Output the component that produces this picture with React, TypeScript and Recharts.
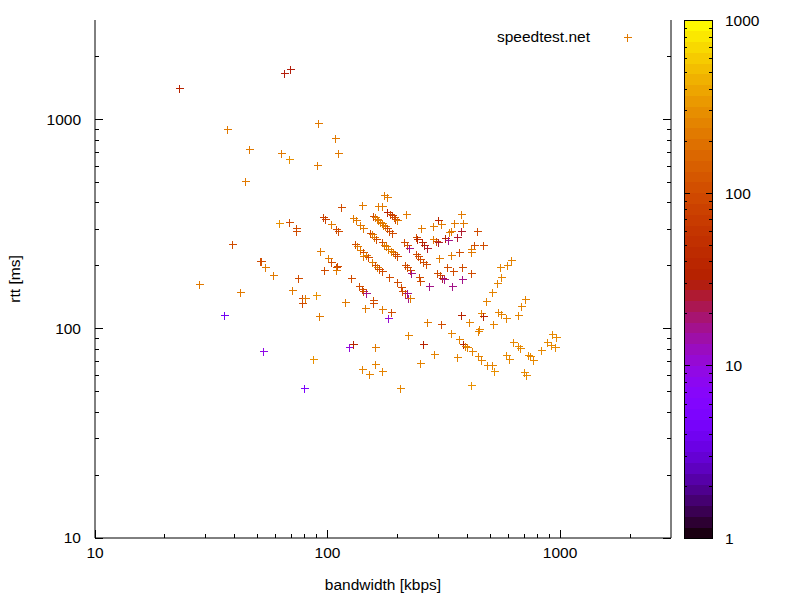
import React from 'react';
import { ScatterChart, Scatter, XAxis, YAxis } from 'recharts';

// speedtest.net samples: bandwidth [kbps], rtt [ms] and the colour-box value (log 1..1000)
const bandwidth = [
  23, 65, 69, 37, 91, 46, 108, 63, 68, 111, 90, 44,
  39, 28, 42, 36, 53, 79, 87, 92,
  62, 68, 73, 73, 96, 98, 104, 109, 111, 114, 93, 100,
  51, 52, 54, 58, 75, 70, 89, 78, 80, 78, 104, 110, 109, 97, 109,
  175, 180, 141, 165, 171, 180, 217, 185, 189, 193, 196, 198, 129, 132,
  157, 160, 163, 165, 168, 171, 174, 177, 181, 184, 189,
  138, 142, 253, 152, 155, 158, 161,
  171, 175, 178, 182, 187, 192, 196, 199, 131, 134, 138,
  142, 147, 150, 142, 213, 219, 224, 240, 243, 254, 261, 268,
  240, 245, 251, 258, 265, 155, 160, 163, 167, 171, 215, 220, 226, 228,
  184, 198, 248, 251, 273, 126, 136, 140, 142, 146, 206, 210, 215, 220, 222, 226, 119, 157, 157, 145, 172, 187, 182, 267,
  299, 309, 285, 349, 383, 375, 341, 333, 375, 439, 285, 292, 299, 319, 330, 361,
  425, 466, 368, 341, 413, 413, 302, 325, 347, 380, 416, 296, 304, 312, 316, 380, 343,
  550, 591, 615, 557, 533, 508, 479, 706, 682, 659, 375, 459, 466, 539, 557, 584, 515, 406, 309,
  222, 258, 287, 250, 339, 368, 383, 390, 397, 361, 418, 443, 446, 443, 459, 485, 512, 520, 413, 205,
  584, 603, 627, 659, 675, 727, 740, 765, 700, 712, 827, 878, 917, 926, 957, 947,
  124, 129, 160, 160, 141, 151, 172,
];

const rtt = [
  1420, 1680, 1750, 900, 970, 725, 820, 695, 650, 695, 610, 510,
  255, 164, 150, 117, 78, 52, 72, 115,
  320, 325, 305, 295, 343, 336, 318, 301, 294, 383, 236, 219,
  212, 212, 198, 181, 175, 154, 145, 141, 141, 133, 209, 200, 198, 192, 192,
  438, 428, 392, 388, 388, 364, 355, 356, 350, 343, 336, 330, 339, 332,
  348, 342, 336, 330, 324, 320, 315, 311, 303, 295, 289,
  315, 305, 303, 289, 283, 276, 270,
  259, 253, 248, 242, 236, 232, 227, 222, 254, 248, 239,
  232, 225, 220, 222, 259, 251, 244, 276, 269, 259, 251, 244,
  228, 222, 216, 210, 205, 210, 202, 197, 193, 189, 202, 197, 192, 185,
  177, 167, 177, 170, 161, 175, 161, 155, 151, 148, 158, 152, 148, 148, 140, 140, 134, 138, 133, 126, 125, 120, 113, 108,
  330, 317, 309, 320, 320, 354, 295, 292, 293, 293, 269, 262, 260, 272, 267, 275,
  252, 252, 233, 226, 241, 234, 218, 197, 190, 197, 185, 186, 181, 175, 173, 174, 161,
  197, 201, 213, 177, 165, 150, 136, 139, 128, 117, 117, 119, 115, 120, 118, 113, 105, 108, 105,
  93, 85, 76, 69, 96, 89, 85, 83, 82, 73, 78, 98, 100, 74, 71, 67, 67, 63, 54, 52,
  75, 72, 87, 83, 81, 75, 74, 71, 62, 60, 79, 87, 84, 95, 91, 82,
  82, 85, 82, 68, 64, 61, 63,
];

const cbValue = [
  35, 30, 30, 220, 220, 220, 220, 220, 300, 220, 220, 220,
  100, 220, 220, 4, 9, 5, 300, 220,
  300, 100, 100, 100, 80, 80, 220, 100, 100, 100, 220, 220,
  100, 100, 220, 220, 100, 220, 300, 100, 220, 100, 100, 100, 100, 100, 220,
  220, 220, 220, 220, 220, 35, 220, 100, 70, 100, 100, 220, 220, 220,
  100, 220, 220, 220, 220, 220, 220, 220, 100, 100, 100,
  220, 220, 220, 100, 220, 220, 100,
  100, 220, 220, 220, 220, 220, 100, 100, 100, 220, 220,
  100, 220, 100, 220, 100, 100, 17, 100, 40, 40, 30, 26,
  100, 100, 100, 100, 100, 220, 100, 220, 100, 100, 100, 100, 100, 17,
  100, 100, 100, 100, 17, 100, 100, 100, 100, 17, 100, 100, 100, 17, 17, 220, 220, 100, 100, 220, 220, 100, 11, 220,
  40, 220, 220, 220, 220, 220, 220, 220, 26, 100, 220, 100, 26, 35, 17, 26,
  100, 100, 100, 220, 220, 220, 220, 100, 100, 100, 100, 100, 100, 26, 17, 17, 17,
  250, 250, 250, 250, 250, 250, 250, 250, 250, 250, 35, 250, 35, 250, 250, 250, 250, 250, 100,
  250, 35, 250, 250, 250, 250, 35, 250, 250, 250, 250, 250, 250, 250, 250, 250, 250, 300, 300, 260,
  270, 270, 270, 270, 270, 270, 270, 270, 270, 270, 270, 270, 270, 270, 270, 270,
  10, 35, 220, 250, 250, 250, 250,
];

const axisTicks = [
  10, 20, 30, 40, 50, 60, 70, 80, 90,
  100, 200, 300, 400, 500, 600, 700, 800, 900,
  1000, 2000,
];
const cbTicks = [1, 2, 3, 4, 5, 6, 7, 8, 9, 10, 20, 30, 40, 50, 60, 70, 80, 90, 100, 200, 300, 400, 500, 600, 700, 800, 900, 1000];

const points = bandwidth.map((bw, i) => ({ bw, rtt: rtt[i], c: cbValue[i] }));

const FONT = "'Liberation Sans', Arial, sans-serif";
const FS = 15.5;

// gnuplot default palette (rgbformulae 7,5,15) on a log cb range 1..1000
const palette = (v: number) => {
  const t = Math.min(1, Math.max(0, Math.log10(v) / 3));
  const r = Math.sqrt(t);
  const g = t * t * t;
  const b = Math.max(0, Math.sin(2 * Math.PI * t));
  return `rgb(${Math.round(r * 255)},${Math.round(g * 255)},${Math.round(b * 255)})`;
};

const isMajor = (v: number) => Math.abs(Math.log10(v) - Math.round(Math.log10(v))) < 1e-9;

const Plus = (props: any) => {
  const { cx, cy, payload } = props;
  if (cx == null || cy == null) return <g />;
  const x = Math.round(cx) + 0.5;
  const y = Math.round(cy) + 0.5;
  return (
    <path
      d={`M${x - 4},${y}H${x + 4}M${x},${y - 4}V${y + 4}`}
      stroke={palette(payload.c)}
      strokeWidth={1}
      fill="none"
      shapeRendering="crispEdges"
    />
  );
};

const BottomTick = ({ x, y, payload }: any) => {
  const major = isMajor(payload.value);
  return (
    <g>
      <line x1={x} y1={y} x2={x} y2={y - (major ? 8 : 4)} stroke="#000" shapeRendering="crispEdges" />
      {major && (
        <text x={x} y={y + 20} textAnchor="middle" fontSize={FS} fontFamily={FONT} fill="#000">
          {payload.value}
        </text>
      )}
    </g>
  );
};

const TopTick = ({ x, y, payload }: any) => {
  const major = isMajor(payload.value);
  return <line x1={x} y1={y} x2={x} y2={y + (major ? 8 : 4)} stroke="#000" shapeRendering="crispEdges" />;
};

const LeftTick = ({ x, y, payload }: any) => {
  const major = isMajor(payload.value);
  return (
    <g>
      <line x1={x} y1={y} x2={x + (major ? 8 : 4)} y2={y} stroke="#000" shapeRendering="crispEdges" />
      {major && (
        <text x={x - 14} y={y + 5} textAnchor="end" fontSize={FS} fontFamily={FONT} fill="#000">
          {payload.value}
        </text>
      )}
    </g>
  );
};

const RightTick = ({ x, y, payload }: any) => {
  const major = isMajor(payload.value);
  return <line x1={x} y1={y} x2={x - (major ? 8 : 4)} y2={y} stroke="#000" shapeRendering="crispEdges" />;
};

// colour box geometry (same height as the plot area)
const CB = { left: 684, right: 712, top: 20, bottom: 538 };
const cbY = (v: number) => CB.bottom - (Math.log10(v) / 3) * (CB.bottom - CB.top);
const BANDS = 48;

const Overlay = () => (
  <svg width={800} height={600} style={{ position: 'absolute', left: 0, top: 0, pointerEvents: 'none' }}>
    {Array.from({ length: BANDS }, (_, i) => {
      const lo = (3 * i) / BANDS;
      const hi = (3 * (i + 1)) / BANDS;
      const y1 = cbY(Math.pow(10, hi));
      const y2 = cbY(Math.pow(10, lo));
      return (
        <rect
          key={i}
          x={CB.left}
          y={y1}
          width={CB.right - CB.left}
          height={y2 - y1 + 0.5}
          fill={palette(Math.pow(10, (lo + hi) / 2))}
          shapeRendering="crispEdges"
        />
      );
    })}
    <rect
      x={CB.left + 0.5}
      y={CB.top + 0.5}
      width={CB.right - CB.left}
      height={CB.bottom - CB.top}
      fill="none"
      stroke="#000"
      shapeRendering="crispEdges"
    />
    {cbTicks.map((v) => {
      const y = Math.round(cbY(v)) + 0.5;
      const len = isMajor(v) ? 6 : 3;
      return (
        <g key={v}>
          <line x1={CB.left} y1={y} x2={CB.left + len} y2={y} stroke="#000" shapeRendering="crispEdges" />
          <line x1={CB.right} y1={y} x2={CB.right - len} y2={y} stroke="#000" shapeRendering="crispEdges" />
          {isMajor(v) && (
            <text x={725} y={y + 5} fontSize={FS} fontFamily={FONT} fill="#000">
              {v}
            </text>
          )}
        </g>
      );
    })}

    {/* key */}
    <text x={590} y={42} textAnchor="end" fontSize={FS} fontFamily={FONT} fill="#000">
      speedtest.net
    </text>
    <path d="M623.5,37.5H631.5M627.5,33.5V41.5" stroke={palette(220)} fill="none" shapeRendering="crispEdges" />

    {/* axis titles */}
    <text x={383} y={590} textAnchor="middle" fontSize={FS} fontFamily={FONT} fill="#000">
      bandwidth [kbps]
    </text>
    <text
      transform="translate(20,279) rotate(-90)"
      textAnchor="middle"
      fontSize={FS}
      fontFamily={FONT}
      fill="#000"
    >
      rtt [ms]
    </text>
  </svg>
);

export default function App() {
  return (
    <div style={{ position: 'absolute', left: 0, top: 0, width: 800, height: 600, background: '#fff' }}>
      <ScatterChart width={800} height={600} margin={{ top: 20, right: 0, bottom: 0, left: 0 }}>
        <XAxis
          xAxisId="b"
          type="number"
          dataKey="bw"
          scale="log"
          domain={[10, 3000]}
          allowDataOverflow
          ticks={axisTicks}
          interval={0}
          tickSize={0}
          tickMargin={0}
          tickLine={false}
          height={62}
          axisLine={{ stroke: '#000' }}
          tick={<BottomTick />}
        />
        <XAxis
          xAxisId="t"
          orientation="top"
          type="number"
          dataKey="bw"
          scale="log"
          domain={[10, 3000]}
          allowDataOverflow
          ticks={axisTicks}
          interval={0}
          tickSize={0}
          tickMargin={0}
          tickLine={false}
          height={0}
          axisLine={{ stroke: '#000' }}
          tick={<TopTick />}
        />
        <YAxis
          yAxisId="l"
          type="number"
          dataKey="rtt"
          scale="log"
          domain={[10, 3000]}
          allowDataOverflow
          ticks={axisTicks}
          interval={0}
          tickSize={0}
          tickMargin={0}
          tickLine={false}
          width={95}
          axisLine={{ stroke: '#000' }}
          tick={<LeftTick />}
        />
        <YAxis
          yAxisId="r"
          orientation="right"
          type="number"
          dataKey="rtt"
          scale="log"
          domain={[10, 3000]}
          allowDataOverflow
          ticks={axisTicks}
          interval={0}
          tickSize={0}
          tickMargin={0}
          tickLine={false}
          width={129}
          axisLine={{ stroke: '#000' }}
          tick={<RightTick />}
        />
        <Scatter data={points} xAxisId="t" yAxisId="r" shape={() => <g />} isAnimationActive={false} />
        <Scatter data={points} xAxisId="b" yAxisId="l" shape={Plus} isAnimationActive={false} />
      </ScatterChart>
      <Overlay />
    </div>
  );
}
